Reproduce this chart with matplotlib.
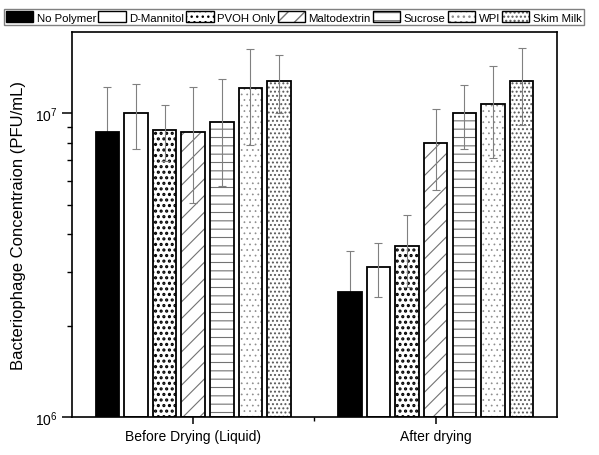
import numpy as np
import matplotlib
matplotlib.use("Agg")
import matplotlib.pyplot as plt
from matplotlib.ticker import LogLocator, NullFormatter, FixedLocator
from matplotlib.legend_handler import HandlerTuple

plt.rcParams['font.family'] = ['Liberation Sans', 'DejaVu Sans']

# data
groups = ["Before Drying (Liquid)", "After drying"]
series = ["No Polymer", "D-Mannitol", "PVOH Only", "Maltodextrin", "Sucrose", "WPI", "Skim Milk"]
before = [8.68e6, 1.005e7, 8.81e6, 8.66e6, 9.37e6, 1.208e7, 1.277e7]
before_err = [3.56e6, 2.4e6, 1.84e6, 3.58e6, 3.63e6, 4.2e6, 2.78e6]
after = [2.58e6, 3.11e6, 3.65e6, 7.97e6, 1.002e7, 1.071e7, 1.277e7]
after_err = [0.94e6, 0.62e6, 0.97e6, 2.37e6, 2.4e6, 3.6e6, 3.65e6]

# look of each series: fill, hatch, hatch colour, hatch width
styles = [
    ("black", "", "black", 1.0),
    ("white", "", "black", 1.0),
    ("white", "...", "black", 1.5),
    ("white", "//", "0.45", 0.8),
    ("white", "--", "0.45", 0.8),
    ("white", "...", "0.55", 0.5),
    ("white", "....", "0.35", 0.9),
]

fig = plt.figure(figsize=(5.99, 4.56), dpi=100)
ax = fig.add_axes([0.1202, 0.0833, 0.8096, 0.8443])

base = 1e6
x = np.arange(len(groups))
pitch = 0.118
width = 0.097
handles = []
for i, name in enumerate(series):
    vals = np.array([before[i], after[i]])
    errs = [before_err[i], after_err[i]]
    pos = x + (i - 3) * pitch
    fill, hatch, hcol, hlw = styles[i]
    # hatched layer (edge colour sets hatch colour), then black outline on top
    under = ax.bar(pos, vals - base, width, bottom=base, color=fill, edgecolor=hcol,
                   hatch=hatch, linewidth=0, zorder=2)
    for b in under:
        if hasattr(b, "set_hatch_linewidth"):
            b.set_hatch_linewidth(hlw)
    ax.bar(pos, vals - base, width, bottom=base, fill=False, edgecolor="black",
           linewidth=1.3, zorder=3)
    # on the black bar the lower whisker is not visible
    ax.errorbar(pos, vals, yerr=errs, fmt="none", ecolor="0.5",
                elinewidth=0.8, capsize=3, capthick=0.8,
                zorder=1.5 if i == 0 else 4)
    h = plt.Rectangle((0, 0), 1, 1, facecolor=fill, edgecolor=hcol, hatch=hatch,
                      linewidth=0)
    if hasattr(h, "set_hatch_linewidth"):
        h.set_hatch_linewidth(hlw)
    handles.append((h, plt.Rectangle((0, 0), 1, 1, fill=False,
                                     edgecolor="black", linewidth=1.0)))

ax.set_yscale("log")
ax.set_ylim(1e6, 1.85e7)
ax.set_xlim(-0.5, 1.5)

ax.yaxis.set_major_locator(LogLocator(base=10))
ax.yaxis.set_minor_locator(LogLocator(base=10, subs=np.arange(2, 10)))
ax.yaxis.set_minor_formatter(NullFormatter())
ax.set_xticks(x)
ax.set_xticklabels(groups, fontsize=10)
ax.xaxis.set_minor_locator(FixedLocator([0.5]))
ax.tick_params(axis="y", which="major", direction="out", length=7, width=1.1,
               labelsize=10, right=False)
ax.tick_params(axis="y", which="minor", direction="out", length=3.5, width=1.0)
ax.tick_params(axis="x", which="major", direction="out", length=5, width=1.1)
ax.tick_params(axis="x", which="minor", direction="out", length=3, width=1.0)
for s in ax.spines.values():
    s.set_linewidth(1.2)

ax.set_ylabel("Bacteriophage Concentraion (PFU/mL)", fontsize=12, labelpad=6)

fig.legend(handles, series, loc="upper left", bbox_to_anchor=(0.006, 0.978),
           ncol=7, fontsize=8.2, frameon=True, fancybox=False,
           edgecolor="0.5", framealpha=1, handlelength=2.4, handleheight=1.1,
           handletextpad=0.3, columnspacing=0.2, borderpad=0.2,
           borderaxespad=0, handler_map={tuple: HandlerTuple(ndivide=1)})

fig.savefig("out.png", dpi=100)
